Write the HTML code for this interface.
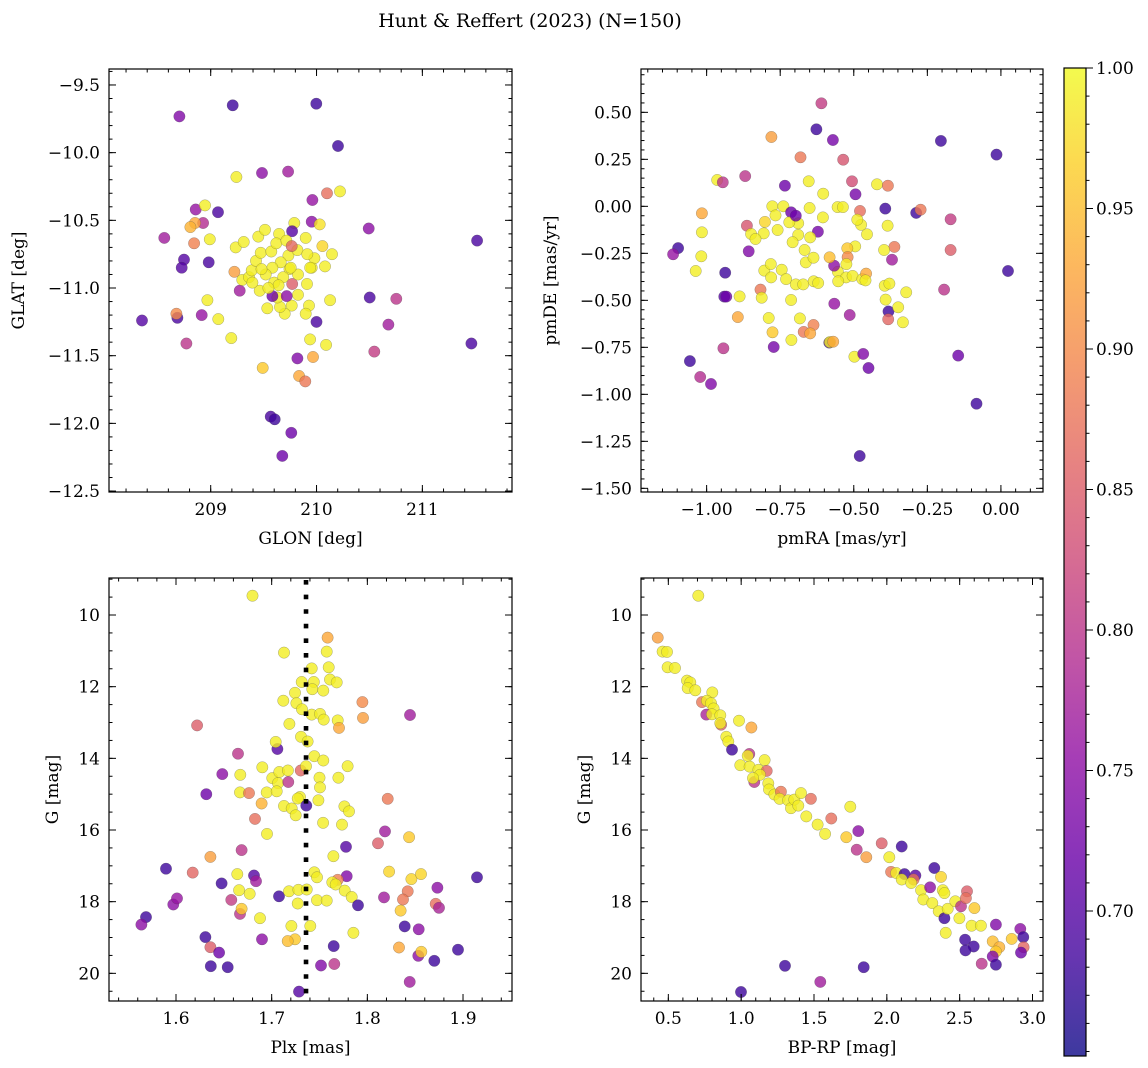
<!DOCTYPE html>
<html><head><meta charset="utf-8"><style>
html,body{margin:0;padding:0;background:#fff;}
svg{display:block;font-family:"DejaVu Serif","Liberation Serif",serif;}
</style></head><body>
<svg id="fig" width="1148" height="1068" viewBox="0 0 1148 1068" xmlns="http://www.w3.org/2000/svg">
<defs>
<linearGradient id="plasma" x1="0" y1="1" x2="0" y2="0">
<stop offset="0" stop-color="#0d0887"/><stop offset="0.1" stop-color="#41049d"/><stop offset="0.2" stop-color="#6a00a8"/><stop offset="0.3" stop-color="#8f0da4"/><stop offset="0.4" stop-color="#b12a90"/><stop offset="0.5" stop-color="#cc4778"/><stop offset="0.6" stop-color="#e16462"/><stop offset="0.7" stop-color="#f2844b"/><stop offset="0.8" stop-color="#fca636"/><stop offset="0.9" stop-color="#fcce25"/><stop offset="1" stop-color="#f0f921"/>
</linearGradient>
</defs>
<text x="530" y="27" text-anchor="middle" font-size="19">Hunt &amp; Reffert (2023) (N=150)</text>
</svg>
<script>
// ---------- Panel 1: GLON / GLAT ----------
const glon=[208.704,209.208,209.998,210.203,209.243,209.485,209.731,210.099,210.222,209.961,208.858,208.946,209.069,208.928,208.852,208.808,208.562,208.843,208.991,208.748,208.726,208.981,209.224,209.274,208.969,208.351,208.685,208.676,208.915,209.072,208.77,209.195,209.491,209.819,209.967,209.939,210.09,209.835,209.894,210.0,210.128,210.502,210.754,210.679,210.546,210.493,211.517,211.463,209.567,209.605,209.762,209.677,209.954,210.03,209.79,209.769,209.898,210.055,210.146,210.08,209.954,209.98,209.91,209.825,209.929,209.898,209.765,209.699,209.535,209.655,209.63,209.583,209.718,209.463,209.77,209.745,209.825,209.299,209.362,209.387,209.428,209.472,209.45,209.513,209.646,209.573,209.62,209.734,209.661,209.583,209.52,209.6,209.685,209.48,209.236,209.312,209.819,209.913,209.94,209.715,209.765,209.756,209.642,209.545,209.394];
const glat=[-9.732,-9.65,-9.638,-9.951,-10.18,-10.15,-10.14,-10.30,-10.286,-10.35,-10.42,-10.39,-10.44,-10.52,-10.52,-10.55,-10.63,-10.67,-10.64,-10.79,-10.85,-10.81,-10.88,-11.02,-11.09,-11.24,-11.22,-11.19,-11.20,-11.23,-11.41,-11.37,-11.59,-11.52,-11.51,-11.38,-11.42,-11.65,-11.69,-11.25,-11.09,-11.07,-11.08,-11.27,-11.47,-10.56,-10.65,-11.41,-11.95,-11.97,-12.07,-12.24,-10.51,-10.53,-10.52,-10.58,-10.63,-10.69,-10.75,-10.84,-10.85,-10.78,-10.97,-11.05,-11.13,-11.19,-11.13,-11.19,-11.15,-11.14,-11.07,-11.06,-11.06,-11.02,-10.97,-10.86,-10.90,-10.94,-10.92,-10.87,-10.80,-10.74,-10.62,-10.57,-10.60,-10.73,-10.67,-10.76,-10.81,-10.85,-10.90,-10.96,-10.92,-10.86,-10.70,-10.66,-10.72,-10.75,-10.85,-10.65,-10.69,-10.85,-10.98,-11.00,-10.96];
const prob1=[0.74,0.68,0.68,0.68,0.99,0.75,0.77,0.87,0.99,0.76,0.76,0.99,0.69,0.79,0.93,0.94,0.77,0.89,0.99,0.70,0.70,0.69,0.92,0.77,0.99,0.70,0.69,0.90,0.76,0.99,0.80,0.99,0.96,0.74,0.93,0.99,0.99,0.93,0.88,0.69,0.99,0.69,0.80,0.77,0.81,0.75,0.69,0.69,0.69,0.68,0.72,0.72,0.75,0.98,0.99,0.70,0.99,0.97,0.99,0.99,0.99,0.99,0.99,0.99,0.99,0.99,0.99,0.99,0.99,0.99,0.99,0.72,0.75,0.99,0.85,0.99,0.99,0.99,0.99,0.99,0.99,0.99,0.99,0.99,0.99,0.99,0.99,0.99,0.99,0.99,0.99,0.99,0.99,0.99,0.99,0.99,0.99,0.99,0.99,0.99,0.86,0.99,0.99,0.99,0.99];

// ---------- Panel 2: pmRA / pmDE ----------
const pmra=[-0.610,-0.627,-0.571,-0.204,-0.015,-0.780,-0.681,-0.536,-0.964,-0.945,-0.869,-0.734,-0.653,-0.506,-0.494,-0.421,-0.384,-0.604,-0.777,-0.739,-0.713,-0.650,-0.555,-0.537,-0.479,-0.393,-0.288,-0.273,-0.171,-0.171,0.024,-1.016,-1.016,-1.018,-1.037,-1.097,-1.114,-0.937,-0.857,-0.863,-0.940,-0.933,-0.888,-0.817,-0.813,-0.894,-0.713,-0.789,-0.776,-0.772,-0.712,-0.683,-0.670,-0.637,-0.648,-0.583,-0.581,-0.570,-0.943,-1.057,-1.022,-0.985,-0.566,-0.514,-0.498,-0.468,-0.450,-0.382,-0.383,-0.333,-0.349,-0.392,-0.395,-0.379,-0.322,-0.193,-0.145,-0.083,-0.480,-0.362,-0.397,-0.370,-0.385,-0.455,-0.475,-0.488,-0.495,-0.522,-0.521,-0.525,-0.554,-0.526,-0.504,-0.471,-0.458,-0.460,-0.553,-0.567,-0.582,-0.605,-0.622,-0.667,-0.663,-0.637,-0.648,-0.689,-0.708,-0.689,-0.719,-0.697,-0.766,-0.759,-0.802,-0.806,-0.849,-0.834,-0.804,-0.782,-0.781,-0.745,-0.730,-0.697,-0.672,-0.636,-0.621];
const pmde=[0.548,0.410,0.353,0.348,0.275,0.369,0.261,0.248,0.140,0.128,0.161,0.110,0.133,0.133,0.064,0.117,0.110,0.067,0.000,0.000,-0.032,-0.009,-0.004,-0.004,-0.025,-0.012,-0.035,-0.018,-0.069,-0.232,-0.344,-0.037,-0.138,-0.266,-0.344,-0.222,-0.255,-0.353,-0.239,-0.103,-0.480,-0.480,-0.479,-0.443,-0.486,-0.589,-0.498,-0.594,-0.670,-0.748,-0.711,-0.596,-0.668,-0.631,-0.676,-0.725,-0.722,-0.720,-0.755,-0.823,-0.908,-0.945,-0.518,-0.578,-0.800,-0.785,-0.860,-0.559,-0.601,-0.617,-0.537,-0.496,-0.422,-0.411,-0.457,-0.443,-0.794,-1.050,-1.328,-0.216,-0.232,-0.284,-0.103,-0.149,-0.098,-0.071,-0.213,-0.223,-0.270,-0.307,-0.348,-0.378,-0.370,-0.387,-0.358,-0.394,-0.399,-0.316,-0.271,-0.059,-0.135,-0.232,-0.298,-0.273,-0.165,-0.152,-0.191,-0.090,-0.085,-0.050,-0.048,-0.126,-0.083,-0.144,-0.147,-0.174,-0.342,-0.307,-0.378,-0.337,-0.387,-0.415,-0.415,-0.399,-0.408];
const prob2=[0.81,0.68,0.73,0.68,0.68,0.92,0.88,0.84,0.99,0.80,0.80,0.72,0.99,0.83,0.73,0.99,0.88,0.99,0.99,0.99,0.72,0.99,0.99,0.99,0.87,0.68,0.68,0.88,0.81,0.85,0.68,0.93,0.99,0.99,0.99,0.68,0.76,0.68,0.74,0.84,0.70,0.72,0.99,0.88,0.99,0.93,0.99,0.99,0.96,0.73,0.99,0.99,0.88,0.89,0.93,0.68,0.99,0.93,0.80,0.68,0.79,0.74,0.76,0.77,0.99,0.74,0.72,0.68,0.86,0.99,0.99,0.99,0.99,0.99,0.99,0.80,0.72,0.68,0.68,0.88,0.99,0.77,0.99,0.99,0.99,0.99,0.99,0.96,0.90,0.99,0.99,0.99,0.99,0.99,0.93,0.99,0.99,0.75,0.95,0.99,0.73,0.99,0.99,0.99,0.99,0.99,0.99,0.99,0.99,0.72,0.99,0.99,0.97,0.99,0.99,0.99,0.99,0.99,0.99,0.99,0.99,0.99,0.99,0.99,0.99];

// ---------- Panel 3: Plx / G ----------
const plx=[1.680,1.7585,1.7129,1.7575,1.7418,1.7596,1.761,1.768,1.7314,1.744,1.7425,1.754,1.7244,1.7122,1.7258,1.7317,1.7418,1.7505,1.7544,1.769,1.7704,1.7948,1.7955,1.8446,1.622,1.7185,1.7307,1.7376,1.706,1.7042,1.6648,1.7446,1.754,1.7794,1.7697,1.750,1.7505,1.7488,1.6484,1.6672,1.6902,1.7007,1.708,1.717,1.7303,1.7359,1.7066,1.7174,1.6948,1.7052,1.6669,1.6763,1.6317,1.6895,1.7129,1.7209,1.7251,1.7296,1.7272,1.7362,1.776,1.7808,1.7537,1.7735,1.6826,1.6951,1.8213,1.8185,1.8111,1.8436,1.7777,1.6686,1.6359,1.7645,1.5895,1.6174,1.6641,1.6815,1.6836,1.6477,1.7446,1.7474,1.7784,1.769,1.7634,1.7669,1.7763,1.7836,1.7902,1.8227,1.846,1.8561,1.8732,1.8422,1.8373,1.8174,1.8348,1.8714,1.8749,1.9146,1.6659,1.677,1.7077,1.7181,1.7279,1.7366,1.7272,1.7474,1.7575,1.6578,1.5972,1.601,1.6669,1.6686,1.6878,1.5686,1.5638,1.7206,1.7404,1.7854,1.839,1.8537,1.6307,1.6359,1.645,1.6364,1.654,1.6899,1.7244,1.7167,1.7648,1.7516,1.7655,1.8331,1.8533,1.8564,1.870,1.8948,1.8443,1.7286];
const gmag3=[9.46,10.63,11.05,11.02,11.49,11.46,11.80,11.88,11.87,11.87,12.07,12.11,12.17,12.39,12.46,12.63,12.78,12.76,12.92,12.94,13.15,12.43,12.87,12.79,13.08,13.04,13.40,13.53,13.74,13.54,13.87,13.94,14.06,14.22,14.54,14.54,14.81,15.17,14.44,14.46,14.25,14.55,14.38,14.34,14.34,14.22,14.69,14.66,14.95,14.92,14.95,14.97,15.00,15.26,15.33,15.40,15.59,15.08,15.12,15.32,15.34,15.48,15.80,15.85,15.69,16.11,15.13,16.04,16.37,16.20,16.47,16.56,16.75,16.73,17.08,17.19,17.23,17.27,17.43,17.49,17.18,17.32,17.29,17.39,17.46,17.52,17.69,17.87,18.10,17.16,17.37,17.23,17.61,17.71,17.94,17.88,18.25,18.06,18.17,17.32,17.68,17.78,17.85,17.71,17.67,17.66,18.05,17.96,17.97,17.95,18.08,17.91,18.34,18.20,18.46,18.43,18.64,18.68,18.68,18.87,18.69,18.77,18.99,19.27,19.42,19.80,19.83,19.05,19.05,19.10,19.24,19.78,19.74,19.28,19.51,19.40,19.65,19.34,20.24,20.51];
const prob3=[0.99,0.93,0.99,0.99,0.99,0.99,0.99,0.99,0.99,0.99,0.99,0.99,0.99,0.99,0.99,0.99,0.99,0.99,0.99,0.99,0.93,0.90,0.92,0.77,0.85,0.99,0.99,0.99,0.70,0.99,0.80,0.99,0.99,0.99,0.99,0.99,0.99,0.99,0.75,0.99,0.99,0.99,0.99,0.99,0.86,0.99,0.99,0.80,0.99,0.99,0.99,0.88,0.72,0.94,0.99,0.99,0.99,0.99,0.99,0.68,0.99,0.99,0.99,0.99,0.87,0.99,0.88,0.77,0.85,0.96,0.70,0.80,0.92,0.99,0.68,0.86,0.99,0.70,0.77,0.68,0.99,0.99,0.74,0.89,0.99,0.99,0.99,0.99,0.68,0.97,0.97,0.97,0.75,0.88,0.88,0.77,0.96,0.87,0.78,0.68,0.99,0.99,0.68,0.99,0.99,0.99,0.99,0.99,0.99,0.81,0.75,0.76,0.80,0.96,0.99,0.68,0.75,0.99,0.99,0.99,0.68,0.75,0.68,0.85,0.72,0.68,0.68,0.75,0.96,0.95,0.68,0.74,0.80,0.93,0.75,0.96,0.68,0.68,0.77,0.70];

// ---------- Panel 4: BP-RP / G ----------
const bprp=[0.706,0.427,0.461,0.491,0.495,0.546,0.628,0.651,0.633,0.685,0.802,0.731,0.765,0.793,0.811,0.761,0.800,0.857,0.862,0.857,0.985,1.070,0.898,0.912,0.937,1.056,1.045,1.161,0.994,1.058,1.118,1.175,1.090,1.129,1.081,1.186,1.191,1.228,1.273,1.264,1.322,1.342,1.365,1.392,1.411,1.447,1.479,1.525,1.576,1.619,1.749,1.722,1.804,1.793,1.859,1.965,2.017,2.102,2.029,2.064,2.121,2.196,2.102,2.184,2.167,2.235,2.297,2.326,2.372,2.384,2.395,2.250,2.312,2.356,2.395,2.418,2.470,2.509,2.498,2.550,2.543,2.601,2.582,2.646,2.749,2.404,2.537,2.596,2.540,2.651,2.727,2.772,2.749,2.727,2.749,2.857,2.916,2.937,2.939,2.921,1.301,1.841,1.543,0.999];
const gmag4=[9.46,10.63,11.02,11.03,11.46,11.48,11.83,11.88,12.04,12.10,12.16,12.43,12.39,12.46,12.61,12.78,12.77,12.80,13.06,13.02,12.95,13.14,13.40,13.53,13.76,13.88,13.93,14.05,14.19,14.23,14.32,14.35,14.66,14.46,14.55,14.70,14.87,15.01,14.93,15.13,15.17,15.39,15.15,15.32,14.97,15.62,15.13,15.85,16.11,15.68,15.35,16.20,16.03,16.55,16.76,16.37,16.76,16.46,17.17,17.20,17.23,17.27,17.38,17.38,17.48,17.68,17.60,17.06,17.31,17.68,17.76,17.94,18.04,18.27,18.46,18.20,17.99,18.13,18.46,17.71,17.90,18.18,18.67,18.67,18.64,18.87,19.06,19.25,19.36,19.73,19.11,19.27,19.39,19.53,19.76,19.04,18.76,18.99,19.27,19.42,19.79,19.83,20.24,20.52];
const prob4=[0.99,0.92,0.99,0.99,0.99,0.99,0.99,0.99,0.99,0.99,0.99,0.88,0.99,0.99,0.99,0.78,0.99,0.99,0.85,0.99,0.99,0.93,0.99,0.99,0.68,0.80,0.99,0.99,0.99,0.99,0.99,0.86,0.80,0.99,0.99,0.99,0.99,0.99,0.88,0.99,0.99,0.99,0.99,0.99,0.99,0.99,0.87,0.99,0.99,0.87,0.99,0.96,0.75,0.80,0.92,0.85,0.99,0.68,0.88,0.99,0.68,0.70,0.99,0.87,0.99,0.99,0.75,0.68,0.97,0.99,0.99,0.99,0.99,0.99,0.68,0.99,0.99,0.80,0.99,0.85,0.87,0.96,0.99,0.99,0.74,0.99,0.68,0.68,0.68,0.80,0.95,0.94,0.96,0.74,0.68,0.96,0.75,0.68,0.86,0.72,0.68,0.68,0.77,0.68];

const CMIN=0.6484, CMAX=1.0;
const NS='http://www.w3.org/2000/svg';
const svg=document.getElementById('fig');
const FS=17;
const stops=[[0,[13,8,135]],[0.1,[65,4,157]],[0.2,[106,0,168]],[0.3,[143,13,164]],[0.4,[177,42,144]],[0.5,[204,71,120]],[0.6,[225,100,98]],[0.7,[242,132,75]],[0.8,[252,166,54]],[0.9,[252,206,37]],[1,[240,249,33]]];
function cmap(v){let t=(v-CMIN)/(CMAX-CMIN);t=Math.max(0,Math.min(1,t));
 for(let i=1;i<stops.length;i++){if(t<=stops[i][0]){const a=stops[i-1],b=stops[i],f=(t-a[0])/(b[0]-a[0]);
 return 'rgb('+a[1].map((c,k)=>Math.round(c+(b[1][k]-c)*f)).join(',')+')';}}return 'rgb(240,249,33)';}
function mk(tag,attrs,parent){const e=document.createElementNS(NS,tag);for(const k in attrs)e.setAttribute(k,attrs[k]);(parent||svg).appendChild(e);return e;}
function fmt(v,d){const s=Math.abs(v).toFixed(d);return (v<-1e-9?'\u2212':'')+s;}

function panel(o){
 const g=mk('g',{});
 
 
 const sx=v=>o.x0+(v-o.xa)/(o.xb-o.xa)*o.w;
 const sy=v=>o.y0+(v-o.ya)/(o.yb-o.ya)*o.h;
 const pg=mk('g',{},g);
 
 
 for(let i=0;i<o.xs.length;i++){
  const c=mk('circle',{cx:sx(o.xs[i]).toFixed(1),cy:sy(o.ys[i]).toFixed(1),r:5.7,fill:cmap(o.cs[i]),'fill-opacity':0.8,stroke:'#444','stroke-opacity':0.45,'stroke-width':0.5},pg);
  
  
 }
 if(o.extra)o.extra(g,sx,sy);
 const fr=mk('rect',{x:o.x0,y:o.y0,width:o.w,height:o.h,fill:'none',stroke:'#000','stroke-width':1.2},g);
 
 
 const tg=mk('g',{stroke:'#000','stroke-width':1},g);
 const lo=(a,b)=>Math.min(a,b),hi=(a,b)=>Math.max(a,b);
 const xl=lo(o.xa,o.xb),xh=hi(o.xa,o.xb);
 for(let v=Math.ceil(xl/o.xmin-1e-6)*o.xmin;v<=xh+1e-9;v+=o.xmin){const X=sx(v);
  mk('line',{x1:X,x2:X,y1:o.y0+o.h,y2:o.y0+o.h-3.5},tg);mk('line',{x1:X,x2:X,y1:o.y0,y2:o.y0+3.5},tg);}
 o.xmaj.forEach((v,i)=>{const X=sx(v);
  mk('line',{x1:X,x2:X,y1:o.y0+o.h,y2:o.y0+o.h-7},tg);mk('line',{x1:X,x2:X,y1:o.y0,y2:o.y0+7},tg);
  const t=mk('text',{x:X,y:o.y0+o.h+23,'text-anchor':'middle','font-size':FS},g);t.textContent=o.xlab[i];
  
  });
 const yl=lo(o.ya,o.yb),yh=hi(o.ya,o.yb);
 for(let v=Math.ceil(yl/o.ymin-1e-6)*o.ymin;v<=yh+1e-9;v+=o.ymin){const Y=sy(v);
  mk('line',{y1:Y,y2:Y,x1:o.x0,x2:o.x0+3.5},tg);mk('line',{y1:Y,y2:Y,x1:o.x0+o.w,x2:o.x0+o.w-3.5},tg);}
 o.ymaj.forEach((v,i)=>{const Y=sy(v);
  mk('line',{y1:Y,y2:Y,x1:o.x0,x2:o.x0+7},tg);mk('line',{y1:Y,y2:Y,x1:o.x0+o.w,x2:o.x0+o.w-7},tg);
  const t=mk('text',{x:o.x0-9,y:Y+6,'text-anchor':'end','font-size':FS},g);t.textContent=o.ylab[i];
  
  });
 const xt=mk('text',{x:o.x0+o.w/2,y:o.y0+o.h+52,'text-anchor':'middle','font-size':FS},g);xt.textContent=o.xtitle;
 
 
 const yt=mk('text',{x:0,y:0,'text-anchor':'middle','font-size':FS,transform:'translate('+o.ytx+','+(o.y0+o.h/2)+') rotate(-90)'},g);yt.textContent=o.ytitle;
 
 
}

const p1xm=[209,210,211], p1xl=['209','210','211'];
const p1ym=[-9.5,-10,-10.5,-11,-11.5,-12,-12.5];
panel({name:'glon-glat-panel',x0:109,y0:69,w:403,h:423,xa:208.039,xb:211.847,ya:-9.382,yb:-12.507,xs:glon,ys:glat,cs:prob1,
 xmaj:p1xm,xlab:p1xl,xmin:0.2,ymaj:p1ym,ylab:p1ym.map(v=>fmt(v,1)),ymin:0.1,xtitle:'GLON [deg]',ytitle:'GLAT [deg]',ytx:24});
const p2xm=[-1,-0.75,-0.5,-0.25,0];
const p2ym=[0.5,0.25,0,-0.25,-0.5,-0.75,-1,-1.25,-1.5];
panel({name:'pm-panel',x0:641,y0:69,w:402,h:423,xa:-1.223,xb:0.143,ya:0.7305,yb:-1.5195,xs:pmra,ys:pmde,cs:prob2,
 xmaj:p2xm,xlab:p2xm.map(v=>fmt(v,2)),xmin:0.05,ymaj:p2ym,ylab:p2ym.map(v=>fmt(v,2)),ymin:0.05,xtitle:'pmRA [mas/yr]',ytitle:'pmDE [mas/yr]',ytx:556});
const p3xm=[1.6,1.7,1.8,1.9];
const gym=[10,12,14,16,18,20];
const plxMedian=1.7359;
panel({name:'plx-g-panel',x0:109,y0:578,w:403,h:423,xa:1.52996,xb:1.9512,ya:8.967,yb:20.772,xs:plx,ys:gmag3,cs:prob3,
 xmaj:p3xm,xlab:p3xm.map(v=>v.toFixed(1)),xmin:0.02,ymaj:gym,ylab:gym.map(String),ymin:0.5,xtitle:'Plx [mas]',ytitle:'G [mag]',ytx:58,
 extra:(g,sx,sy)=>{const X=sx(plxMedian);const l=mk('line',{x1:X,x2:X,y1:578+2,y2:1001,stroke:'#000','stroke-width':4.6,'stroke-dasharray':'4.6 10'},g);
  
  }});
const p4xm=[0.5,1,1.5,2,2.5,3];
panel({name:'cmd-panel',x0:641,y0:578,w:402,h:423,xa:0.3124,xb:3.072,ya:8.967,yb:20.772,xs:bprp,ys:gmag4,cs:prob4,
 xmaj:p4xm,xlab:p4xm.map(v=>v.toFixed(1)),xmin:0.1,ymaj:gym,ylab:gym.map(String),ymin:0.5,xtitle:'BP-RP [mag]',ytitle:'G [mag]',ytx:590});

// ---------- Colorbar ----------
const cbTicks=[0.70,0.75,0.80,0.85,0.90,0.95,1.00];
(function(){
 const x0=1064,y0=68,w=22,h=988;
 const cy=v=>y0+h-(v-CMIN)/(CMAX-CMIN)*h;
 const g=mk('g',{});
 
 
 mk('rect',{x:x0,y:y0,width:w,height:h,fill:'url(#plasma)','fill-opacity':0.8},g);
 mk('rect',{x:x0,y:y0,width:w,height:h,fill:'none',stroke:'#000','stroke-width':1.2},g);
 for(let v=0.65;v<=1.0001;v+=0.01){const Y=cy(v);mk('line',{x1:x0+w,x2:x0+w+3.5,y1:Y,y2:Y,stroke:'#000'},g);}
 cbTicks.forEach(v=>{const Y=cy(v);mk('line',{x1:x0+w,x2:x0+w+7,y1:Y,y2:Y,stroke:'#000'},g);
  const t=mk('text',{x:x0+w+10,y:Y+6,'font-size':FS},g);t.textContent=v.toFixed(2);
  
  });
})();
</script>
</body></html>
